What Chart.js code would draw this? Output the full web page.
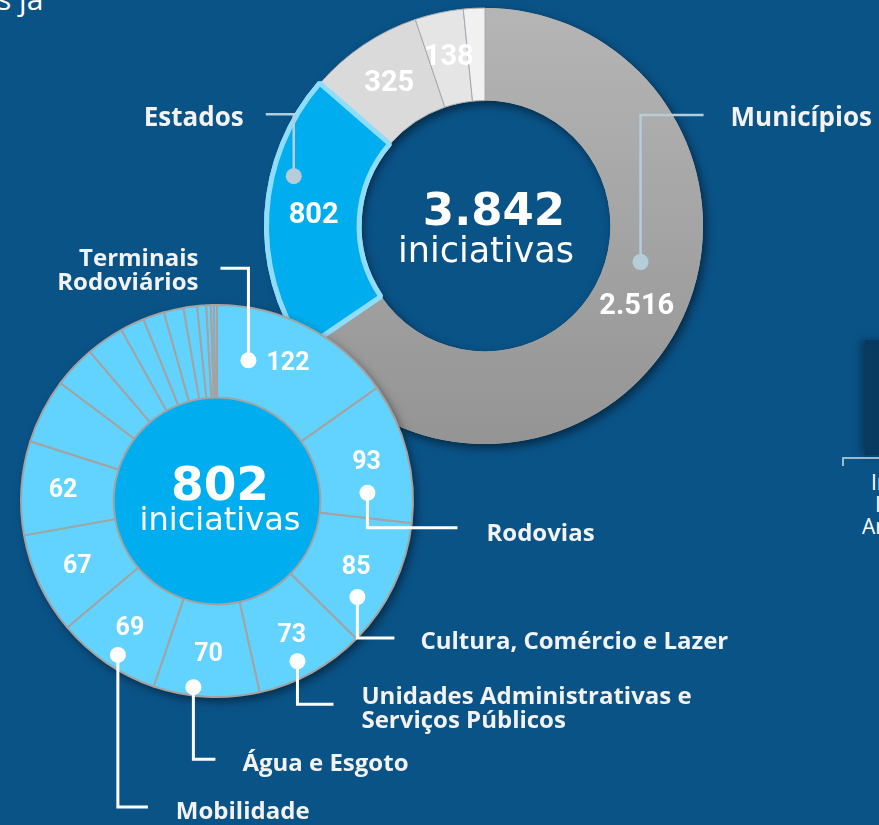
<!DOCTYPE html>
<html>
<head>
<meta charset="utf-8">
<script src="https://cdn.jsdelivr.net/npm/chart.js@4.4.1/dist/chart.umd.min.js"></script>
<style>
  html, body { margin: 0; padding: 0; width: 879px; height: 825px; overflow: hidden; background: #0a5387; }
  canvas { position: absolute; left: 0; top: 0; }
  #bar { position: absolute; left: 865px; top: 340px; width: 30px; height: 115px; background: #08395f; box-shadow: -4px 0 8px rgba(0,0,0,0.35); }
  #brk { position: absolute; left: 842px; top: 457px; width: 60px; height: 7px; border-top: 2px solid #9db8cc; border-left: 2px solid #9db8cc; }
  .frag { position: absolute; color: #fff; font: 21px "Open Sans"; white-space: nowrap; }
  #top { position: absolute; left: -3px; top: -22px; color: #fff; font: 30px "Open Sans"; white-space: nowrap; }
</style>
</head>
<body>
<div id="top">s já</div>
<div id="bar"></div>
<div id="brk"></div>
<div class="frag" style="left:871px;top:468px">Infraestrutura</div>
<div class="frag" style="left:875px;top:490px">Integrada</div>
<div class="frag" style="left:862px;top:512px">Ambiental</div>
<canvas id="big" width="879" height="825"></canvas>
<canvas id="small" width="879" height="825"></canvas>
<script>
// esfera (anel grande)
const bigLabels = ["Municípios", "Estados", "", "", ""];
const bigValues = [2516, 802, 325, 138, 61];
const bigColors = ["#a6a6a6", "#00aeef", "#dadada", "#e5e5e5", "#f1f1f1"];

// setores dos estados (anel pequeno)
const smallLabels = [
  ["Terminais", "Rodoviários"], "Rodovias", "Cultura, Comércio e Lazer",
  ["Unidades Administrativas e", "Serviços Públicos"], "Água e Esgoto", "Mobilidade",
  "", "", "", "", "", "", "", "", "", "", "", "", ""
];
const smallValues = [122, 93, 85, 73, 70, 69, 67, 62, 43, 28, 25, 16, 14, 13, 9, 6, 3, 2, 2];

const totalBig = bigValues.reduce((a, b) => a + b, 0);
const totalSmall = smallValues.reduce((a, b) => a + b, 0);

function fmt(v) {
  return String(v).replace(/\B(?=(\d{3})+(?!\d))/g, ".");
}

function pointOnArc(arc, af, rf) {
  const a = arc.startAngle + (arc.endAngle - arc.startAngle) * af;
  const r = arc.innerRadius + (arc.outerRadius - arc.innerRadius) * rf;
  return { x: arc.x + r * Math.cos(a), y: arc.y + r * Math.sin(a) };
}

function ringShadow(ctx, arc, fill) {
  ctx.save();
  ctx.shadowColor = "rgba(0,0,0,0.5)";
  ctx.shadowBlur = 10;
  ctx.shadowOffsetX = 3;
  ctx.shadowOffsetY = 4;
  ctx.fillStyle = fill;
  ctx.beginPath();
  ctx.arc(arc.x, arc.y, arc.outerRadius, 0, Math.PI * 2);
  ctx.arc(arc.x, arc.y, arc.innerRadius, 0, Math.PI * 2, true);
  ctx.fill();
  ctx.restore();
}

// linha de chamada: ponto -> vertical -> horizontal -> texto
function drawLeader(ctx, arc, spec, label, color) {
  const p = pointOnArc(arc, spec.af, spec.rf);
  const yb = p.y + spec.dy;
  const xe = p.x + spec.dx;
  ctx.save();
  ctx.strokeStyle = color;
  ctx.lineWidth = spec.lw;
  ctx.beginPath();
  ctx.moveTo(p.x, p.y);
  ctx.lineTo(p.x, yb);
  ctx.lineTo(xe, yb);
  ctx.stroke();
  ctx.fillStyle = color;
  ctx.beginPath();
  ctx.arc(p.x, p.y, 8, 0, Math.PI * 2);
  ctx.fill();
  const lines = Array.isArray(label) ? label : [label];
  ctx.fillStyle = "#f2f2f2";
  ctx.font = '700 ' + spec.fs + 'px "Open Sans"';
  ctx.textAlign = spec.dx < 0 ? "right" : "left";
  ctx.textBaseline = "middle";
  const tx = xe + (spec.dx < 0 ? -spec.gap : spec.gap);
  const lh = 24;
  const y0 = yb + spec.ty - (lines.length - 1) * lh / 2;
  lines.forEach((l, k) => ctx.fillText(l, tx, y0 + k * lh));
  ctx.restore();
}

const bigLeaders = {
  0: { af: 0.437, rf: 0.37, dy: -147, dx: 63, gap: 27, ty: 4, lw: 2.5, fs: 26 },
  1: { af: 0.65, rf: 0.78, dy: -62, dx: -28, gap: 22, ty: 4, lw: 2.5, fs: 26 }
};
const smallLeaders = {
  0: { af: 0.23, rf: 0.44, dy: -92, dx: -28, gap: 22, ty: 3, lw: 3, fs: 24 },
  1: { af: 0.77, rf: 0.51, dy: 35, dx: 90, gap: 29, ty: 6, lw: 3, fs: 24 },
  2: { af: 0.73, rf: 0.72, dy: 41, dx: 37, gap: 26, ty: 4, lw: 3, fs: 24 },
  3: { af: 0.57, rf: 0.82, dy: 43, dx: 36, gap: 28, ty: 5, lw: 3, fs: 24 },
  4: { af: 0.63, rf: 0.91, dy: 72, dx: 22, gap: 27, ty: 5, lw: 3, fs: 24 },
  5: { af: 0.45, rf: 0.86, dy: 152, dx: 30, gap: 28, ty: 5, lw: 3, fs: 24 }
};

const bigPlugin = {
  id: "bigDeco",
  beforeDatasetsDraw(chart) {
    const arc = chart.getDatasetMeta(0).data[0];
    ringShadow(chart.ctx, arc, "#a6a6a6");
  },
  afterDatasetsDraw(chart) {
    const ctx = chart.ctx;
    const meta = chart.getDatasetMeta(0);
    // Estados por cima dos vizinhos
    meta.data[1].draw(ctx);
    ctx.save();
    ctx.fillStyle = "#ffffff";
    ctx.textAlign = "center";
    ctx.textBaseline = "middle";
    ctx.font = '700 29px Roboto';
    meta.data.forEach((arc, i) => {
      if (bigValues[i] < 100) return;
      const p = pointOnArc(arc, 0.5, 0.5);
      ctx.fillText(fmt(bigValues[i]), p.x, p.y);
    });
    const c = meta.data[0];
    ctx.textBaseline = "alphabetic";
    ctx.font = '700 45px "DejaVu Sans"';
    ctx.fillText(fmt(totalBig), c.x + 9, c.y - 1);
    ctx.font = '35px "DejaVu Sans"';
    ctx.fillText("iniciativas", c.x + 1, c.y + 36);
    ctx.restore();
    Object.keys(bigLeaders).forEach(i => {
      drawLeader(ctx, meta.data[i], bigLeaders[i], bigLabels[i], "#b4cdd9");
    });
  }
};

const smallPlugin = {
  id: "smallDeco",
  beforeDatasetsDraw(chart) {
    const ctx = chart.ctx;
    const arc = chart.getDatasetMeta(0).data[0];
    ringShadow(ctx, arc, "#62d3fe");
    ctx.save();
    ctx.fillStyle = "#00aeef";
    ctx.beginPath();
    ctx.arc(arc.x, arc.y, arc.innerRadius, 0, Math.PI * 2);
    ctx.fill();
    ctx.restore();
  },
  afterDatasetsDraw(chart) {
    const ctx = chart.ctx;
    const meta = chart.getDatasetMeta(0);
    ctx.save();
    ctx.fillStyle = "#ffffff";
    ctx.textAlign = "center";
    ctx.textBaseline = "middle";
    ctx.font = '700 25px Roboto';
    meta.data.forEach((arc, i) => {
      if (smallValues[i] < 60) return;
      const p = pointOnArc(arc, 0.5, 0.55);
      ctx.fillText(fmt(smallValues[i]), p.x, p.y);
    });
    const c = meta.data[0];
    ctx.textBaseline = "alphabetic";
    ctx.font = '700 47px "DejaVu Sans"';
    ctx.fillText(fmt(totalSmall), c.x + 3, c.y - 1);
    ctx.font = '32px "DejaVu Sans"';
    ctx.fillText("iniciativas", c.x + 3, c.y + 29);
    ctx.restore();
    Object.keys(smallLeaders).forEach(i => {
      drawLeader(ctx, meta.data[i], smallLeaders[i], smallLabels[i], "#ffffff");
    });
  }
};

function municipiosFill(c) {
  const i = c.dataIndex;
  const area = c.chart.chartArea;
  if (i !== 0 || !area) return bigColors[i];
  const cy = (area.top + area.bottom) / 2;
  const g = c.chart.ctx.createLinearGradient(0, cy - 218, 0, cy + 218);
  g.addColorStop(0, "#b5b5b5");
  g.addColorStop(1, "#949494");
  return g;
}

new Chart(document.getElementById("big").getContext("2d"), {
  type: "doughnut",
  data: {
    labels: bigLabels,
    datasets: [{
      data: bigValues,
      backgroundColor: municipiosFill,
      borderColor: ["#a6a6a6", "#8fdcfb", "#a3aab2", "#a3aab2", "#a3aab2"],
      borderWidth: [0, 5, 1, 1, 1],
      offset: [0, 2, 0, 0, 0],
      clip: false
    }]
  },
  options: {
    responsive: false,
    animation: false,
    events: [],
    radius: 218,
    cutout: 128,
    layout: { padding: { left: 91, right: 0, top: 0, bottom: 373 } },
    plugins: { legend: { display: false }, tooltip: { enabled: false } }
  },
  plugins: [bigPlugin]
});

new Chart(document.getElementById("small").getContext("2d"), {
  type: "doughnut",
  data: {
    labels: smallLabels,
    datasets: [{
      data: smallValues,
      backgroundColor: "#62d3fe",
      borderColor: "#a3a3a3",
      borderWidth: 2,
      clip: false
    }]
  },
  options: {
    responsive: false,
    animation: false,
    events: [],
    radius: 196,
    cutout: 114,
    layout: { padding: { left: 0, right: 445, top: 177, bottom: 0 } },
    plugins: { legend: { display: false }, tooltip: { enabled: false } }
  },
  plugins: [smallPlugin]
});
</script>
</body>
</html>
